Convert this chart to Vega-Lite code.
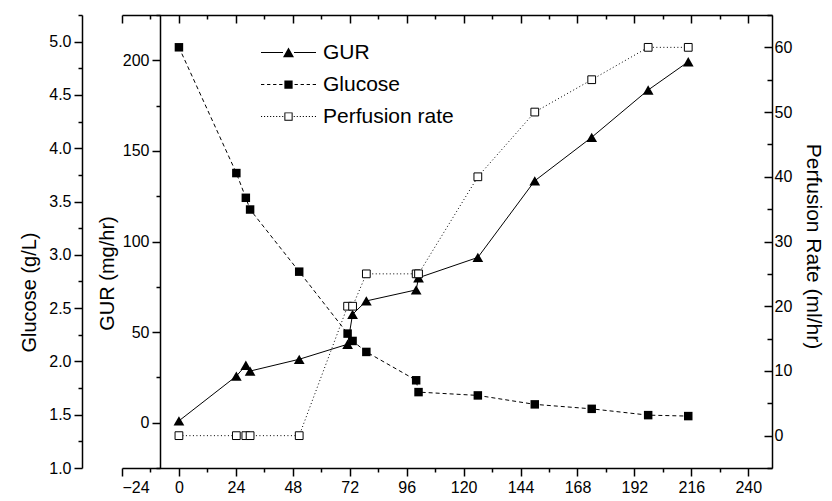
{
  "$schema": "https://vega.github.io/schema/vega-lite/v6.json",
  "width": 650,
  "height": 453,
  "autosize": {"type": "none"},
  "padding": {"left": 122, "top": 15, "right": 60, "bottom": 33},
  "background": "white",
  "config": {
    "view": {"stroke": null},
    "font": "Liberation Sans",
    "axis": {
      "grid": false,
      "domainColor": "black",
      "tickColor": "black",
      "labelColor": "black",
      "titleColor": "black",
      "labelFont": "Liberation Sans",
      "titleFont": "Liberation Sans",
      "titleFontWeight": "normal",
      "labelFontSize": 16,
      "titleFontSize": 20,
      "domainWidth": 1.5,
      "tickWidth": 1.5,
      "labelPadding": 3
    },
    "legend": {
      "labelFont": "Liberation Sans",
      "labelFontSize": 21,
      "labelColor": "black",
      "symbolSize": 121,
      "symbolOpacity": 1,
      "labelOffset": 24,
      "rowPadding": 10,
      "padding": 0
    }
  },
  "datasets": {
    "main": [
      {"hour": 0, "gur": 1, "glucose": 4.947, "perfusion": 0},
      {"hour": 24.2, "gur": 25.7, "glucose": 3.767, "perfusion": 0},
      {"hour": 28.2, "gur": 31.7, "glucose": 3.535, "perfusion": 0},
      {"hour": 30, "gur": 28.5, "glucose": 3.425, "perfusion": 0},
      {"hour": 50.7, "gur": 35, "glucose": 2.842, "perfusion": 0},
      {"hour": 71.1, "gur": 43.3, "glucose": 2.261, "perfusion": 20},
      {"hour": 73.2, "gur": 59.8, "glucose": 2.192, "perfusion": 20},
      {"hour": 79, "gur": 67.2, "glucose": 2.089, "perfusion": 25},
      {"hour": 100, "gur": 73.3, "glucose": 1.823, "perfusion": 25},
      {"hour": 101, "gur": 80, "glucose": 1.712, "perfusion": 25},
      {"hour": 126, "gur": 91.2, "glucose": 1.681, "perfusion": 40},
      {"hour": 150, "gur": 133.5, "glucose": 1.597, "perfusion": 50},
      {"hour": 174, "gur": 157.5, "glucose": 1.555, "perfusion": 55},
      {"hour": 197.8, "gur": 183.6, "glucose": 1.496, "perfusion": 60},
      {"hour": 214.7, "gur": 199.2, "glucose": 1.487, "perfusion": 60}
    ],
    "legend": [
      {"series": "GUR"},
      {"series": "Glucose"},
      {"series": "Perfusion rate"}
    ]
  },
  "data": {"name": "main"},
  "layer": [
    {
      "mark": {"type": "line", "color": "black", "strokeWidth": 1, "strokeDash": [4, 3],
               "point": {"shape": "square", "size": 72, "filled": true, "color": "black"}},
      "encoding": {
        "x": {"field": "hour", "type": "quantitative", "scale": {"domain": [-24, 250], "nice": false, "zero": false},
              "axis": {"orient": "bottom", "values": [-24, 0, 24, 48, 72, 96, 120, 144, 168, 192, 216, 240], "tickSize": 8, "title": null}},
        "y": {"field": "glucose", "type": "quantitative", "scale": {"domain": [1, 5.25], "nice": false, "zero": false},
              "axis": {"orient": "left", "offset": 40, "values": [1, 1.5, 2, 2.5, 3, 3.5, 4, 4.5, 5], "format": ".1f", "tickSize": 8,
                       "title": "Glucose (g/L)", "titlePadding": 9, "titleY": 277}}
      }
    },
    {
      "mark": {"type": "line", "color": "black", "strokeWidth": 1,
               "point": {"shape": "triangle-up", "size": 115, "filled": true, "color": "black"}},
      "encoding": {
        "x": {"field": "hour", "type": "quantitative", "scale": {"domain": [-24, 250], "nice": false, "zero": false},
              "axis": {"orient": "bottom", "values": [-12, 12, 36, 60, 84, 108, 132, 156, 180, 204, 228], "tickSize": 4, "labels": false, "domain": false, "title": null}},
        "y": {"field": "gur", "type": "quantitative", "scale": {"domain": [-25, 225], "nice": false, "zero": false},
              "axis": {"orient": "left", "offset": -38, "values": [0, 50, 100, 150, 200], "tickSize": 8,
                       "title": "GUR (mg/hr)", "titlePadding": 5, "titleY": 258}}
      }
    },
    {
      "mark": {"type": "line", "color": "black", "strokeWidth": 1, "strokeDash": [1, 2.5],
               "point": {"shape": "square", "size": 60, "filled": false, "fill": "white", "stroke": "black", "strokeWidth": 1}},
      "encoding": {
        "x": {"field": "hour", "type": "quantitative", "scale": {"domain": [-24, 250], "nice": false, "zero": false},
              "axis": {"orient": "top", "values": [-24, 0, 24, 48, 72, 96, 120, 144, 168, 192, 216, 240], "tickSize": -8, "labels": false, "title": null}},
        "y": {"field": "perfusion", "type": "quantitative", "scale": {"domain": [-5, 65], "nice": false, "zero": false},
              "axis": {"orient": "right", "values": [0, 10, 20, 30, 40, 50, 60], "tickSize": -8, "labelPadding": 10,
                       "title": "Perfusion Rate (ml/hr)", "titleFontSize": 21, "titlePadding": 11, "titleY": 231}}
      }
    },
    {
      "mark": {"type": "point", "opacity": 0},
      "encoding": {
        "x": {"field": "hour", "type": "quantitative", "scale": {"domain": [-24, 250], "nice": false, "zero": false},
              "axis": {"orient": "top", "values": [-12, 12, 36, 60, 84, 108, 132, 156, 180, 204, 228], "tickSize": -4, "labels": false, "domain": false, "title": null}},
        "y": {"field": "glucose", "type": "quantitative", "scale": {"domain": [1, 5.25], "nice": false, "zero": false},
              "axis": {"orient": "left", "offset": 40, "values": [1.25, 1.75, 2.25, 2.75, 3.25, 3.75, 4.25, 4.75, 5.25], "tickSize": 4, "labels": false, "domain": false, "title": null}}
      }
    },
    {
      "mark": {"type": "point", "opacity": 0},
      "encoding": {
        "x": {"field": "hour", "type": "quantitative", "scale": {"domain": [-24, 250], "nice": false, "zero": false}, "axis": null},
        "y": {"field": "gur", "type": "quantitative", "scale": {"domain": [-25, 225], "nice": false, "zero": false},
              "axis": {"orient": "left", "offset": -38, "values": [-25, 25, 75, 125, 175, 225], "tickSize": 4, "labels": false, "domain": false, "title": null}}
      }
    },
    {
      "mark": {"type": "point", "opacity": 0},
      "encoding": {
        "x": {"field": "hour", "type": "quantitative", "scale": {"domain": [-24, 250], "nice": false, "zero": false}, "axis": null},
        "y": {"field": "perfusion", "type": "quantitative", "scale": {"domain": [-5, 65], "nice": false, "zero": false},
              "axis": {"orient": "right", "values": [-5, 5, 15, 25, 35, 45, 55, 65], "tickSize": -5, "labels": false, "domain": false, "title": null}}
      }
    },
    {
      "data": {"name": "legend"},
      "mark": {"type": "point", "filled": true, "color": "black", "fillOpacity": 0, "strokeOpacity": 0},
      "encoding": {
        "shape": {"field": "series", "type": "nominal",
                  "scale": {"domain": ["GUR", "Glucose", "Perfusion rate"],
                            "range": ["M-5,-0.09H-1V0.09H-5Z M1,-0.09H5V0.09H1Z M-1,0.85L1,0.85L0,-0.9Z",
                                      "M-5,-0.09H-4.4V0.09H-5Z M-3.9,-0.09H-3.3V0.09H-3.9Z M-2.8,-0.09H-2.2V0.09H-2.8Z M-1.7,-0.09H-1.1V0.09H-1.7Z M1.1,-0.09H1.7V0.09H1.1Z M2.2,-0.09H2.8V0.09H2.2Z M3.3,-0.09H3.9V0.09H3.3Z M4.4,-0.09H5V0.09H4.4Z M-0.75,-0.75H0.75V0.75H-0.75Z",
                                      "M-5,-0.09H-4.8V0.09H-5Z M-4.45,-0.09H-4.25V0.09H-4.45Z M-3.9,-0.09H-3.7V0.09H-3.9Z M-3.35,-0.09H-3.15V0.09H-3.35Z M-2.8,-0.09H-2.6V0.09H-2.8Z M-2.25,-0.09H-2.05V0.09H-2.25Z M-1.7,-0.09H-1.5V0.09H-1.7Z M-1.15,-0.09H-0.95V0.09H-1.15Z M0.95,-0.09H1.15V0.09H0.95Z M1.5,-0.09H1.7V0.09H1.5Z M2.05,-0.09H2.25V0.09H2.05Z M2.6,-0.09H2.8V0.09H2.6Z M3.15,-0.09H3.35V0.09H3.15Z M3.7,-0.09H3.9V0.09H3.7Z M4.25,-0.09H4.45V0.09H4.25Z M4.8,-0.09H5V0.09H4.8Z M-0.75,-0.75H0.75V0.75H-0.75Z M-0.57,-0.57V0.57H0.57V-0.57Z"]},
                  "legend": {"title": null, "orient": "none", "legendX": 156, "legendY": 27, "symbolOpacity": 1, "symbolFillColor": "black"}}
      }
    }
  ],
  "resolve": {"scale": {"y": "independent"}, "axis": {"x": "independent", "y": "independent"}}
}
